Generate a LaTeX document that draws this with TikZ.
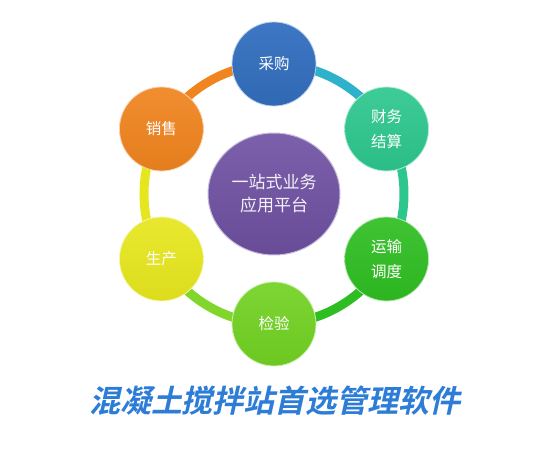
\documentclass[tikz,border=0pt]{standalone}
\usepackage{fontspec}
\newfontfamily\cjk{Noto Sans CJK SC}
\newfontfamily\cjktitle[FakeSlant=0.22]{Noto Sans CJK SC Bold}
\usetikzlibrary{calc,shapes.geometric,backgrounds}
\definecolor{hubpurple}{HTML}{7152A4}
\definecolor{buyblue}{HTML}{336FBF}
\definecolor{finteal}{HTML}{2DC78E}
\definecolor{rungreen}{HTML}{2FBE22}
\definecolor{chkgreen}{HTML}{72D222}
\definecolor{prodyellow}{HTML}{E6E61E}
\definecolor{saleorange}{HTML}{F0841E}
\definecolor{ringcyan}{HTML}{2EB2CC}
\definecolor{ringlime}{HTML}{80D62A}
\definecolor{titleblue}{HTML}{2D7DD7}

\begin{document}
\begin{tikzpicture}[x=1pt,y=1pt,
  ball/.style={circle,minimum size=84pt,inner sep=0pt,line width=0.8pt,text=white,
    align=center,font=\cjk\fontsize{15.5}{25}\selectfont},
  ring/.style={line width=9pt}]
  \useasboundingbox (0,0) rectangle (550,450);
  \node[ellipse,minimum width=132pt,minimum height=122pt,inner sep=0pt,
    top color=hubpurple!92!white,bottom color=hubpurple!92!black,draw=hubpurple!40!white,
    line width=1pt,text=white!92!hubpurple,align=center,
    font=\cjk\fontsize{17}{23}\selectfont] (hub) at (274,256) {一站式业务\\应用平台};
  \node[ball,top color=buyblue!95!white,bottom color=buyblue!94!black,draw=buyblue!35!white]
    (caigou) at ($(hub)+(90:130)$) {采购};
  \node[ball,top color=finteal!92!white,bottom color=finteal!95!black,draw=finteal!35!white]
    (caiwu) at ($(hub)+(30:130)$) {财务\\结算};
  \node[ball,top color=rungreen!92!white,bottom color=rungreen!95!black,draw=rungreen!35!white]
    (yunshu) at ($(hub)+(-30:130)$) {运输\\调度};
  \node[ball,top color=chkgreen!92!white,bottom color=chkgreen!95!black,draw=chkgreen!35!white]
    (jianyan) at ($(hub)+(-90:130)$) {检验};
  \node[ball,top color=prodyellow!92!white,bottom color=prodyellow!96!black,draw=prodyellow!35!white]
    (shengchan) at ($(hub)+(-150:130)$) {生产};
  \node[ball,top color=saleorange!92!white,bottom color=saleorange!95!black,draw=saleorange!35!white]
    (xiaoshou) at ($(hub)+(150:130)$) {销售};
  \begin{scope}[on background layer]
    \draw[ring,saleorange] (xiaoshou.center) arc (150:90:130);
    \draw[ring,ringcyan] (caigou.center) arc (90:30:130);
    \draw[ring,finteal] (caiwu.center) arc (30:-30:130);
    \draw[ring,rungreen] (yunshu.center) arc (-30:-90:130);
    \draw[ring,ringlime] (jianyan.center) arc (-90:-150:130);
    \draw[ring,prodyellow] (shengchan.center) arc (-150:-210:130);
  \end{scope}
  \node[font=\cjktitle\fontsize{31}{31}\selectfont,text=titleblue] (title) at (275,49)
    {混凝土搅拌站首选管理软件};
\end{tikzpicture}
\end{document}
